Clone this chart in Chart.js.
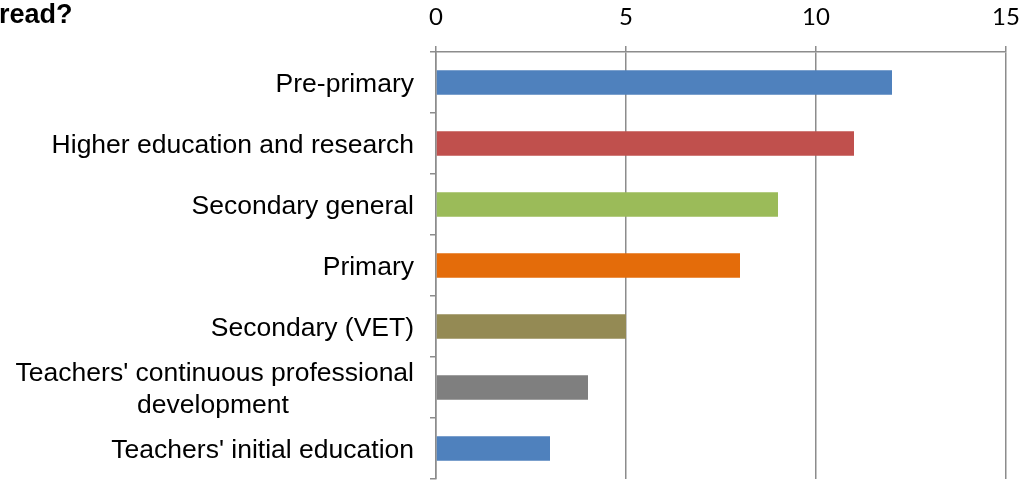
<!DOCTYPE html>
<html>
<head>
<meta charset="utf-8">
<script src="https://cdn.jsdelivr.net/npm/chart.js@4/dist/chart.umd.min.js"></script>
<style>
  html, body { margin: 0; padding: 0; background: #fff; }
  #graph-canvas { display: block; }
</style>
</head>
<body>
<canvas id="graph-canvas" width="1024" height="480"></canvas>
<script>
const titleText = 'read?'
const categories = [
    'Pre-primary',
    'Higher education and research',
    'Secondary general',
    'Primary',
    'Secondary (VET)',
    ["Teachers' continuous professional", 'development'],
    "Teachers' initial education"
]
const counts = [12, 11, 9, 8, 5, 4, 3]
const barColors = ['#4F81BD', '#C0504D', '#9BBB59', '#E46C0A', '#948A54', '#7F7F7F', '#4F81BD']
const xTicks = [0, 5, 10, 15]

const gridGray = '#8c8c8c'
const labelSize = 26.5
const labelFont = labelSize + 'px "Liberation Sans", Arial, sans-serif'

// draws the (cut off) chart title in the top left corner
const titlePlugin = {
    id: 'cornerTitle',
    afterDraw: (chart) => {
        const ctx = chart.ctx
        ctx.save()
        ctx.font = 'bold 27px "Liberation Sans", Arial, sans-serif'
        ctx.fillStyle = '#000'
        ctx.textAlign = 'left'
        ctx.textBaseline = 'top'
        ctx.fillText(titleText, -1, 2)
        ctx.restore()
    }
}

// centre the second line of wrapped labels under the first one
centerLines = (ctx, lines) => {
    if (!Array.isArray(lines)) return lines
    ctx.font = labelFont
    const w0 = ctx.measureText(lines[0]).width
    const sp = ctx.measureText(' ').width
    return lines.map((l) => {
        const w = ctx.measureText(l).width
        const n = Math.round((w0 - w) / 2 / sp)
        return l + ' '.repeat(Math.max(0, n))
    })
}

createChart = () => {
    const canvas = document.getElementById('graph-canvas')
    const ctx = canvas.getContext('2d')
    const labels = categories.map((c) => centerLines(ctx, c))
    const chart = new Chart(canvas, {
        type: 'bar',
        data: {
            labels: labels,
            datasets: [{
                data: counts,
                backgroundColor: barColors,
                borderWidth: 0,
                categoryPercentage: 1,
                barPercentage: 0.4
            }]
        },
        options: {
            indexAxis: 'y',
            responsive: false,
            animation: false,
            layout: { padding: { left: 0, right: 18, top: 0, bottom: 1 } },
            plugins: {
                legend: { display: false },
                tooltip: { enabled: false }
            },
            scales: {
                x: {
                    position: 'top',
                    min: 0,
                    max: 15,
                    afterBuildTicks: (scale) => {
                        scale.ticks = xTicks.map((v) => ({ value: v }))
                    },
                    afterFit: (scale) => {
                        scale.height = 52
                        scale.paddingLeft = 0
                        scale.paddingRight = 0
                    },
                    grid: {
                        color: gridGray,
                        lineWidth: 1.5,
                        drawTicks: true,
                        tickLength: 6
                    },
                    border: { display: true, color: gridGray, width: 1.5 },
                    ticks: {
                        color: '#000',
                        padding: 14,
                        font: { family: 'Lato, "Open Sans", sans-serif', size: 24 }
                    }
                },
                y: {
                    afterFit: (scale) => {
                        scale.width = 436
                        scale.paddingTop = 0
                        scale.paddingBottom = 0
                    },
                    grid: {
                        display: true,
                        drawOnChartArea: false,
                        drawTicks: true,
                        tickLength: 6,
                        color: gridGray,
                        lineWidth: 1.5,
                        offset: true
                    },
                    border: { display: true, color: gridGray, width: 1.5 },
                    ticks: {
                        color: '#000',
                        padding: 16,
                        labelOffset: 2,
                        autoSkip: false,
                        font: { family: '"Liberation Sans", Arial, sans-serif', size: labelSize, lineHeight: 1.2 }
                    }
                }
            }
        },
        plugins: [titlePlugin]
    })
}

createChart()
</script>
</body>
</html>
